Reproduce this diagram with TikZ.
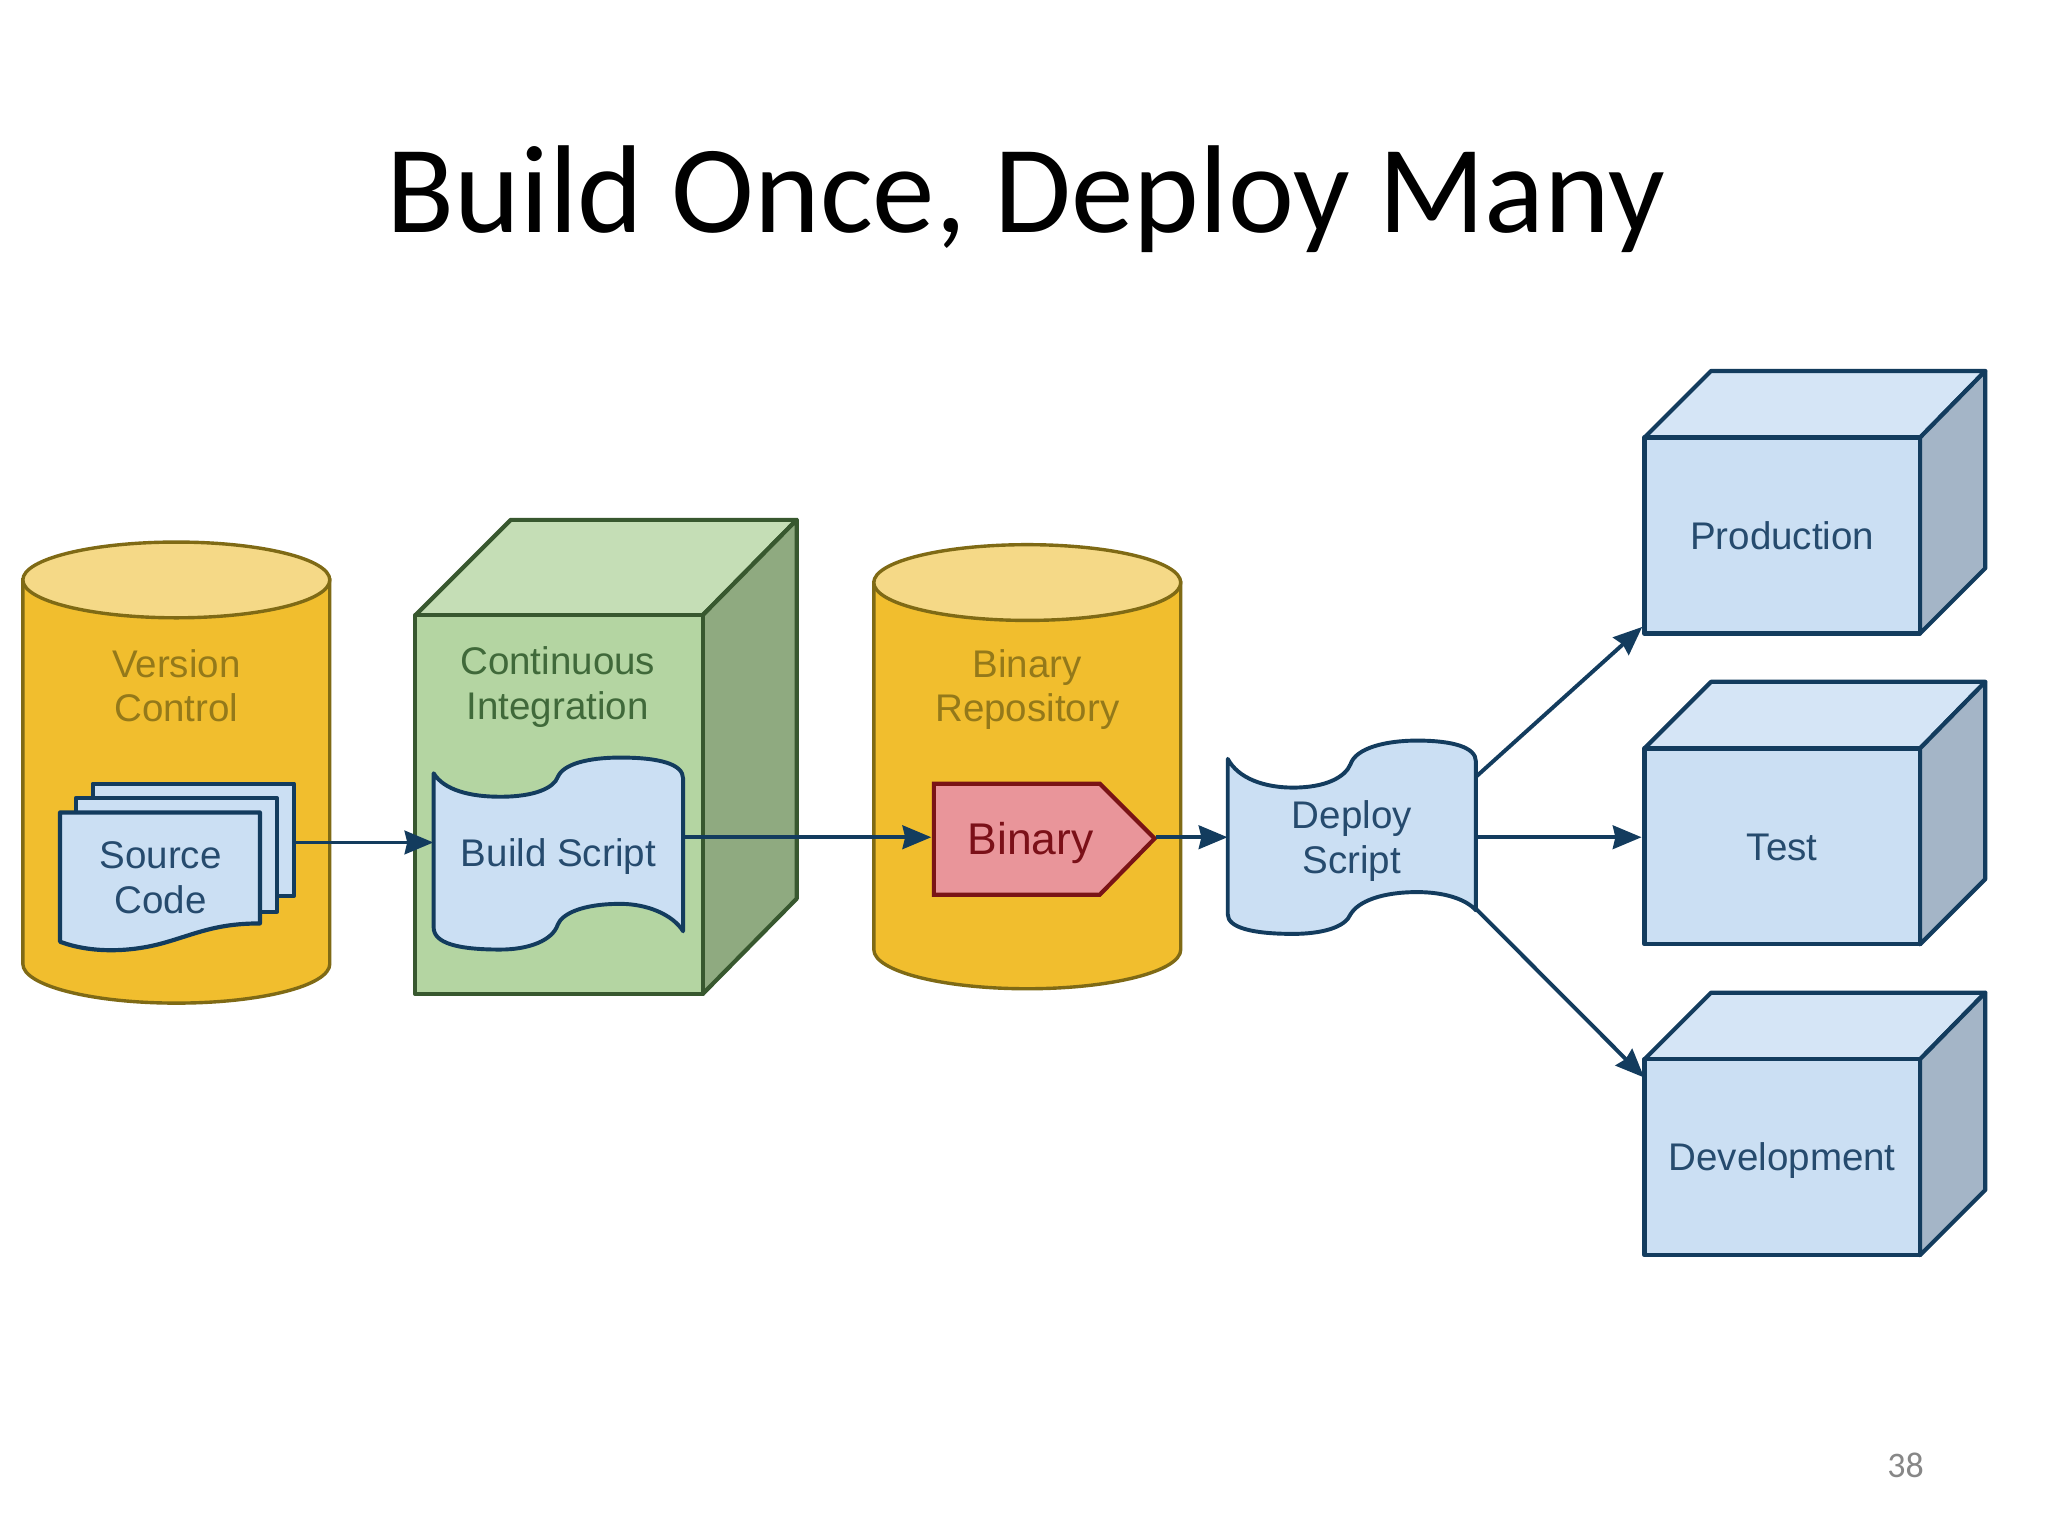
\documentclass[tikz,border=0pt]{standalone}
\usepackage{fontspec}
\setmainfont{Liberation Sans}
\newfontfamily\titlefont{Carlito}
\usetikzlibrary{arrows.meta}
\definecolor{ygold}{HTML}{F1BE2E}
\definecolor{ytop}{HTML}{F5D987}
\definecolor{yline}{HTML}{7F6A15}
\definecolor{ytext}{HTML}{94791A}
\definecolor{gfront}{HTML}{B4D5A2}
\definecolor{gtop}{HTML}{C5DEB6}
\definecolor{gside}{HTML}{8FAA80}
\definecolor{gline}{HTML}{38582F}
\definecolor{gtext}{HTML}{40693A}
\definecolor{bfront}{HTML}{CBDFF3}
\definecolor{btop}{HTML}{D5E5F6}
\definecolor{bside}{HTML}{A4B5C7}
\definecolor{bline}{HTML}{133C5E}
\definecolor{btext}{HTML}{264B6E}
\definecolor{rfill}{HTML}{E9959A}
\definecolor{rline}{HTML}{7A1416}
\definecolor{rtext}{HTML}{7B1018}
\tikzset{
  cyl/.style={fill=ygold,draw=yline,line width=2.6pt},
  cyltop/.style={fill=ytop,draw=yline,line width=2.6pt},
  bluebox/.style={fill=bfront,draw=bline,line width=3.2pt,line join=round},
  bluetop/.style={fill=btop,draw=bline,line width=3.2pt,line join=round},
  blueside/.style={fill=bside,draw=bline,line width=3.2pt,line join=round},
  greenface/.style={fill=gfront,draw=gline,line width=3.2pt,line join=round},
  greentop/.style={fill=gtop,draw=gline,line width=3.2pt,line join=round},
  greenside/.style={fill=gside,draw=gline,line width=3.2pt,line join=round},
  tapeshape/.style={fill=bfront,draw=bline,line width=3pt,line join=round},
  txt/.style={font=\fontsize{29.5}{34}\selectfont,align=center,inner sep=0pt},
  single/.style={txt,text height=21pt,text depth=0pt},
  flow/.style={draw=bline,line width=3pt,-{Stealth[length=22pt,width=18pt,inset=2pt]}},
}
\newcommand{\serverbox}[1]{%
  \draw[bluetop] (1259,#1) -- (1310,#1-51) -- (1520,#1-51) -- (1470,#1) -- cycle;
  \draw[blueside] (1470,#1) -- (1520,#1-51) -- (1520,#1+100) -- (1470,#1+150) -- cycle;
  \draw[bluebox] (1259,#1) rectangle (1470,#1+150);
}
\begin{document}
\begin{tikzpicture}[x=1pt,y=-1pt]
\useasboundingbox[fill=white] (0,0) rectangle (1568,1176);

\node[font=\titlefont\fontsize{95.7}{110}\selectfont,anchor=base,inner sep=0pt] (title) at (785.5,178) {Build Once, Deploy Many};
\node[font=\titlefont\fontsize{27.5}{30}\selectfont,text=black!47,inner sep=0pt] (pagenum) at (1459,1122) {38};

% Version Control cylinder
\draw[cyl] (17.5,444) -- (17.5,738) arc[start angle=180,end angle=360,x radius=117.5,y radius=-30] -- (252.5,444) -- cycle;
\draw[cyltop] (135,444) ellipse[x radius=117.5,y radius=29];
\node[txt,text=ytext] (vc) at (135,525) {Version\\Control};

% Source code stack
\draw[bluebox] (71,600) rectangle (225,686);
\draw[bluebox] (58,611) rectangle (212,698);
\draw[bluebox] (46,622) -- (199,622) -- (199,707) .. controls (165,707) and (150,715) .. (125,722) .. controls (100,729) and (70,730) .. (46,721) -- cycle;
\node[txt,text=btext] (src) at (123,672) {Source\\Code};
\coordinate (stackE) at (226,645);

% Continuous Integration box
\draw[greentop] (318,471) -- (391,398) -- (610,398) -- (538,471) -- cycle;
\draw[greenside] (538,471) -- (610,398) -- (610,688) -- (538,761) -- cycle;
\draw[greenface] (318,471) rectangle (538,761);
\node[txt,text=gtext] (ci) at (427,526) {Continuous\\Integration};

% Build script
\draw[tapeshape] (332,592) .. controls (340,605) and (360,610) .. (383,610) .. controls (410,610) and (424,603) .. (427,595) .. controls (431,585) and (450,580) .. (475,580) .. controls (505,580) and (523,585) .. (523,596) -- (523,713) .. controls (515,700) and (495,692) .. (475,692) .. controls (445,692) and (430,700) .. (427,708) .. controls (423,720) and (405,727) .. (383,727) .. controls (350,727) and (332,722) .. (332,710) -- cycle;
\node[single,text=btext,minimum width=191pt] (build) at (427.5,653) {Build Script};

% Binary repository cylinder
\draw[cyl] (669,446) -- (669,727) arc[start angle=180,end angle=360,x radius=117.5,y radius=-30] -- (904,446) -- cycle;
\draw[cyltop] (786.5,446) ellipse[x radius=117.5,y radius=29];
\node[txt,text=ytext] (repo) at (786.5,528) {Binary\\Repository};

% Binary
\draw[fill=rfill,draw=rline,line width=3.2pt,line join=miter] (715,600) -- (842,600) -- (884,642) -- (842,685) -- (715,685) -- cycle;
\node[single,text=rtext,font=\fontsize{34}{38}\selectfont,text height=24pt] (binary) at (789,642) {Binary};
\coordinate (binW) at (713,641);
\coordinate (binE) at (885,641);

% Deploy script
\draw[tapeshape] (940,581) .. controls (948,596) and (968,603) .. (990,603) .. controls (1015,603) and (1030,595) .. (1034,585) .. controls (1038,573) and (1060,567) .. (1085,567) .. controls (1112,567) and (1130,572) .. (1130,583) -- (1130,697) .. controls (1122,688) and (1105,683) .. (1085,683) .. controls (1058,683) and (1040,690) .. (1034,700) .. controls (1030,710) and (1012,715) .. (990,715) .. controls (958,715) and (940,710) .. (940,700) -- cycle;
\node[txt,text=btext,minimum width=190pt,minimum height=148pt] (deploy) at (1035,641) {};
\node[txt,text=btext] (deploylabel) at (1035,644) {Deploy\\Script};

% Target environments
\serverbox{335}
\serverbox{573}
\serverbox{811}
\node[single,text=btext,minimum width=211pt,minimum height=150pt] (prod) at (1364.5,410) {Production};
\node[single,text=btext,minimum width=211pt,minimum height=150pt] (test) at (1364.5,648) {Test};
\node[single,text=btext,minimum width=211pt,minimum height=150pt] (dev) at (1364.5,886) {Development};

% Connectors
\draw[flow] (stackE) -- (stackE -| build.west);
\draw[flow] (build.east |- binW) -- (binW);
\draw[flow] (binE) -- (binE -| deploy.west);
\draw[flow,shorten >=2pt] (deploy.26.6) -- (prod.213.7);
\draw[flow,shorten >=2pt] (deploy.east) -- (deploy.east -| test.west);
\draw[flow] (deploy.-30) -- (dev.150);
\end{tikzpicture}
\end{document}
